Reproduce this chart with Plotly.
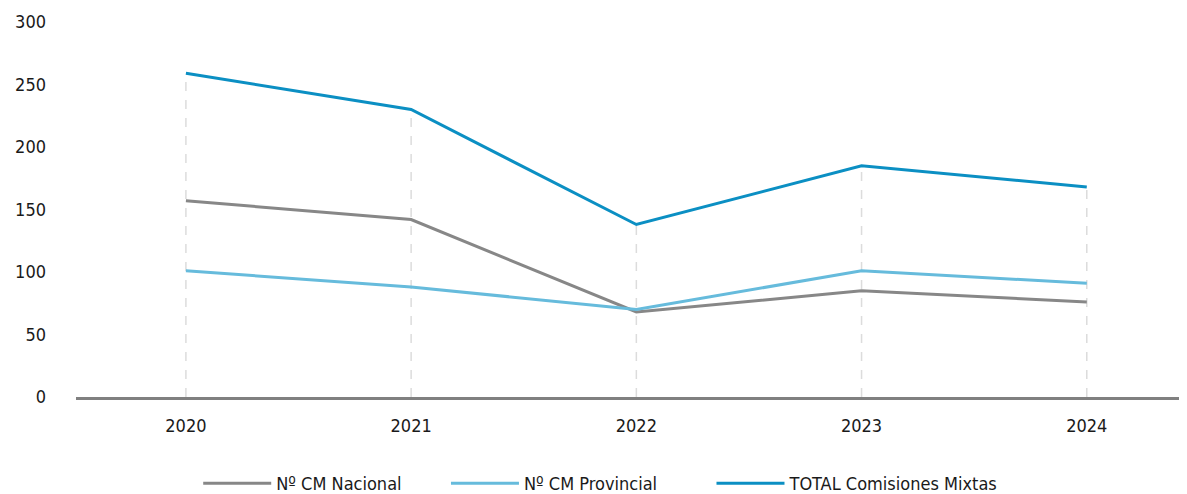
import plotly.graph_objects as go

years = ["2020", "2021", "2022", "2023", "2024"]
nacional = [157, 142, 68, 85, 76]
provincial = [101, 88, 70, 101, 91]
total = [259, 230, 138, 185, 168]
series_names = ["Nº CM Nacional", "Nº CM Provincial", "TOTAL Comisiones Mixtas"]
y_ticks = [0, 50, 100, 150, 200, 250, 300]

colors = ["#878787", "#66bbdc", "#0b8fc3"]
FONT = "DejaVu Sans Condensed"

fig = go.Figure()

# dashed drop lines from axis up to the top value of each year
dx, dy = [], []
for i, yr in enumerate(years):
    top = max(nacional[i], provincial[i], total[i])
    dx += [yr, yr, None]
    dy += [0, top, None]
fig.add_trace(go.Scatter(x=dx, y=dy, mode="lines", showlegend=False, hoverinfo="skip",
                         line=dict(color="#dcdcdc", width=1.5, dash="dash")))

legend_ids = ["legend", "legend2", "legend3"]
for name, vals, c, lg in zip(series_names, [nacional, provincial, total], colors, legend_ids):
    fig.add_trace(go.Scatter(x=years, y=vals, mode="lines", name=name, legend=lg,
                             line=dict(color=c, width=3)))

leg_common = dict(orientation="h", xanchor="left", y=-0.231, yanchor="middle",
                  font=dict(family=FONT, size=18, color="#1a1a1a"), itemwidth=68,
                  bgcolor="rgba(0,0,0,0)")

# page has an 8px body margin, so the figure is 8px smaller than the window
fig.update_layout(
    width=1179, height=486,
    margin=dict(l=68, r=0, t=14, b=97, autoexpand=False),
    plot_bgcolor="white", paper_bgcolor="white",
    font=dict(family=FONT, size=18, color="#1a1a1a"),
    showlegend=True,
    legend=dict(x=0.110, **leg_common),
    legend2=dict(x=0.333, **leg_common),
    legend3=dict(x=0.572, **leg_common),
    xaxis=dict(type="category", range=[-0.488, 4.445], showgrid=False, zeroline=False,
               showline=True, linecolor="#808080", linewidth=2.5, ticks="",
               ticklabelstandoff=11, tickfont=dict(family=FONT, size=18), automargin=False),
    yaxis=dict(range=[0, 300], tickvals=y_ticks, showgrid=False, zeroline=False,
               showline=False, ticks="", ticklabelstandoff=29,
               tickfont=dict(family=FONT, size=18), automargin=False),
)

fig.write_html("out.html")
